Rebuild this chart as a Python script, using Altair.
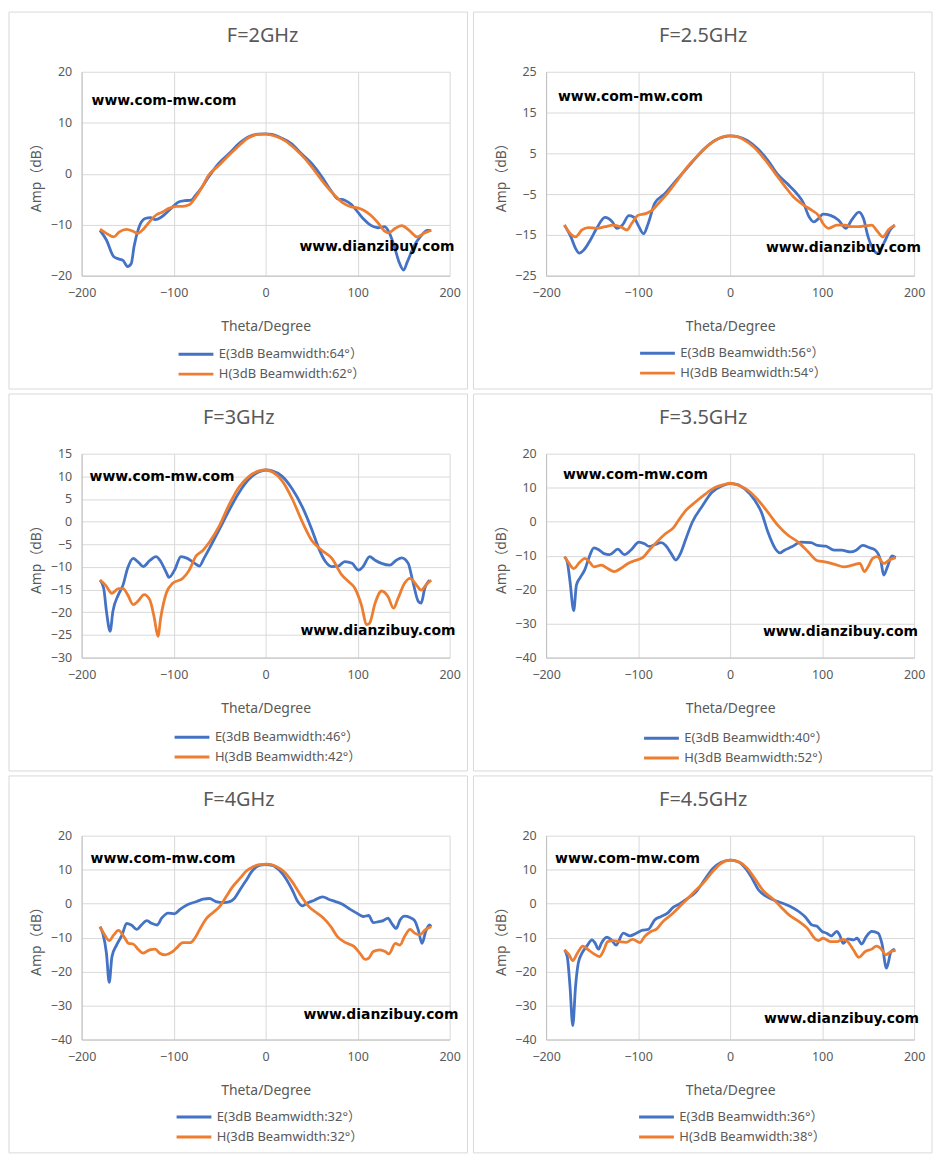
import altair as alt
import pandas as pd

# ---------------- data ----------------
TITLES = ["F=2GHz", "F=2.5GHz", "F=3GHz", "F=3.5GHz", "F=4GHz", "F=4.5GHz"]
E_LABELS = ["E(3dB Beamwidth:64°）", "E(3dB Beamwidth:56°）", "E(3dB Beamwidth:46°）",
            "E(3dB Beamwidth:40°）", "E(3dB Beamwidth:32°）", "E(3dB Beamwidth:36°）"]
H_LABELS = ["H(3dB Beamwidth:62°）", "H(3dB Beamwidth:54°）", "H(3dB Beamwidth:42°）",
            "H(3dB Beamwidth:52°）", "H(3dB Beamwidth:32°）", "H(3dB Beamwidth:38°）"]
X_TICKS = [-200, -100, 0, 100, 200]
Y_DOMAINS = [[-20, 20], [-25, 25], [-30, 15], [-40, 20], [-40, 20], [-40, 20]]
Y_TICKS = [[-20, -10, 0, 10, 20], [-25, -15, -5, 5, 15, 25],
           [-30, -25, -20, -15, -10, -5, 0, 5, 10, 15],
           [-40, -30, -20, -10, 0, 10, 20], [-40, -30, -20, -10, 0, 10, 20],
           [-40, -30, -20, -10, 0, 10, 20]]

P1_E_T = [-180,-173,-165,-160,-155,-150,-146,-143,-138,-131,-125,-120,-114,-108,-101,-94,-88,-81,-76,-69,-62,-51,-40,-29,-19,-8,0,7,17,28,39,50,60,71,78,86,93,100,107,114,122,129,134,140,145,150,154,161,168,176,180]
P1_E_A = [-11.1,-13.0,-16.3,-16.7,-17.0,-18.2,-17.6,-14.3,-10.7,-8.8,-8.6,-9.0,-8.6,-7.7,-6.5,-5.5,-5.3,-5.2,-4.2,-2.6,-0.65,2.0,3.9,5.9,7.2,7.75,7.8,7.7,7.0,5.9,3.9,2.0,-0.3,-3.3,-4.9,-5.2,-6.0,-7.5,-9.0,-10.1,-10.6,-10.4,-11.4,-14.3,-17.3,-18.9,-17.3,-14.3,-12.4,-11.1,-11.1]
P1_H_T = [-180,-173,-165,-159,-151,-144,-139,-133,-126,-119,-112,-105,-97,-90,-83,-76,-69,-62,-51,-40,-29,-19,-8,0,10,21,32,43,53,64,75,84,93,100,107,114,122,129,134,141,148,156,165,172,180]
P1_H_A = [-10.9,-11.7,-12.4,-11.4,-10.9,-11.3,-11.7,-10.9,-9.4,-8.1,-7.5,-6.8,-6.4,-6.4,-6.1,-4.6,-2.6,-0.3,1.6,3.6,5.5,7.0,7.7,7.75,7.4,6.5,4.9,2.9,0.65,-2.0,-4.2,-5.7,-6.5,-6.7,-7.2,-8.1,-9.6,-11.2,-11.6,-10.7,-10.2,-11.1,-12.4,-11.7,-11.1]

P2_E_T = [-180,-173,-168,-164,-159,-152,-145,-136,-128,-123,-117,-110,-105,-100,-94,-89,-82,-71,-60,-49,-38,-28,-17,-6,0,8,19,30,41,51,62,73,80,85,91,96,101,109,118,126,132,140,145,150,156,160,167,174,179]
P2_E_A = [-12.6,-15.5,-18.3,-19.5,-18.7,-16.3,-13.4,-10.7,-11.8,-13.4,-12.6,-10.3,-10.6,-12.6,-14.7,-12.2,-7.3,-4.9,-2.0,0.8,3.7,6.1,8.1,9.1,9.3,9.1,8.1,6.1,3.3,0.0,-2.4,-5.0,-7.3,-10.2,-11.8,-11.0,-9.9,-10.2,-11.4,-13.4,-11.4,-9.4,-11.0,-15.5,-18.7,-19.5,-17.1,-13.8,-12.6]
P2_H_T = [-180,-175,-168,-161,-154,-145,-136,-127,-119,-112,-107,-100,-92,-85,-78,-67,-56,-46,-35,-24,-13,-3,5,15,26,37,48,59,69,80,89,96,101,107,116,125,132,140,147,154,159,166,172,179]
P2_H_A = [-12.6,-14.3,-15.5,-13.8,-13.2,-13.4,-13.0,-12.6,-13.0,-13.8,-12.2,-10.2,-9.8,-9.0,-7.3,-4.5,-1.2,1.8,4.5,6.9,8.6,9.3,9.2,8.3,6.5,3.7,0.4,-2.9,-5.7,-7.7,-9.0,-10.2,-12.2,-13.4,-12.6,-12.6,-13.0,-13.0,-12.8,-12.6,-13.8,-15.5,-13.8,-12.6]

P3_E_T = [-180,-176,-173,-169,-166,-160,-155,-150,-144,-139,-133,-126,-119,-114,-108,-105,-99,-92,-85,-77,-72,-67,-59,-50,-40,-29,-18,-7,0,7,18,29,40,50,58,65,72,79,86,94,101,106,113,119,126,135,142,148,155,160,166,169,173,178]
P3_E_A = [-12.9,-14.7,-19.8,-24.2,-19.8,-16.1,-14.0,-10.3,-8.1,-8.8,-9.9,-8.6,-7.7,-8.8,-11.2,-12.3,-10.7,-7.7,-8.1,-9.2,-9.8,-8.1,-5.1,-1.6,2.4,6.4,9.4,11.0,11.4,11.2,10.0,7.2,3.2,-1.6,-6.0,-8.8,-9.9,-9.8,-8.8,-9.2,-10.7,-9.9,-7.7,-8.5,-9.2,-9.6,-8.5,-8.0,-9.2,-13.2,-17.6,-18.0,-14.7,-12.9]
P3_H_T = [-180,-174,-167,-160,-155,-150,-144,-139,-132,-126,-121,-117,-114,-108,-101,-90,-83,-76,-68,-61,-50,-40,-29,-18,-7,0,7,18,29,40,50,61,72,83,90,97,104,110,113,119,126,133,139,144,151,157,164,169,175,180]
P3_H_A = [-12.9,-14.0,-15.8,-14.8,-14.8,-16.1,-18.3,-17.6,-16.1,-17.2,-21.2,-25.3,-21.2,-15.8,-13.6,-12.5,-10.7,-7.7,-6.3,-4.5,-0.8,3.6,7.6,10.0,11.2,11.4,11.0,9.0,5.0,-0.1,-4.1,-6.3,-8.1,-11.8,-13.2,-14.7,-18.3,-22.7,-22.4,-18.0,-15.3,-16.5,-19.1,-16.9,-13.6,-12.5,-14.0,-15.1,-13.8,-12.9]

P4_E_T = [-180,-177,-174,-170,-167,-163,-158,-153,-148,-142,-137,-131,-122,-115,-108,-99,-93,-88,-82,-75,-70,-64,-59,-54,-48,-41,-30,-20,-9,0,7,16,27,34,41,49,54,59,67,77,88,95,104,113,121,131,137,144,151,158,164,167,171,176,180]
P4_E_A = [-10.3,-11.8,-17.6,-26.2,-18.6,-16.5,-14.2,-10.3,-7.7,-8.4,-9.4,-9.7,-8.1,-9.7,-8.4,-6.0,-6.5,-7.3,-6.8,-6.2,-7.0,-9.4,-11.3,-9.4,-5.0,-0.1,4.7,8.6,10.5,11.2,11.0,9.6,6.2,2.8,-3.0,-7.9,-9.2,-8.4,-7.4,-6.0,-6.2,-7.0,-7.2,-8.4,-8.4,-8.9,-8.4,-7.0,-7.6,-8.4,-11.8,-15.7,-13.3,-10.1,-10.6]
P4_H_T = [-180,-175,-170,-163,-158,-153,-148,-140,-133,-126,-119,-111,-104,-95,-88,-79,-70,-61,-56,-48,-38,-27,-16,-7,0,9,20,31,41,52,63,74,85,95,103,113,124,133,141,146,150,155,160,167,173,180]
P4_H_A = [-10.3,-12.3,-13.8,-11.8,-10.8,-11.8,-13.3,-12.8,-13.8,-14.7,-13.8,-12.3,-11.5,-10.6,-8.4,-5.8,-3.5,-1.6,0.4,3.3,5.7,8.1,10.1,10.9,11.3,10.7,9.1,6.2,2.8,-1.1,-4.0,-6.0,-8.9,-11.5,-11.8,-12.5,-13.3,-12.8,-12.3,-14.7,-13.3,-10.8,-10.3,-12.3,-11.3,-10.6]

P5_E_T = [-180,-177,-173,-170,-167,-162,-156,-151,-146,-140,-135,-129,-124,-118,-113,-106,-99,-93,-84,-75,-68,-61,-54,-46,-39,-34,-28,-21,-14,-7,0,8,15,22,29,35,40,45,53,62,69,76,83,92,99,106,112,117,123,128,133,137,142,146,151,157,162,166,170,174,178,180]
P5_E_A = [-6.8,-8.7,-14.6,-23.2,-15.6,-12.2,-9.2,-5.8,-6.3,-7.6,-6.3,-5.0,-5.8,-6.3,-4.3,-2.8,-3.0,-1.7,-0.2,0.6,1.3,1.5,0.6,0.3,0.6,1.5,4.0,6.9,9.8,11.2,11.5,11.2,9.8,7.4,4.0,0.6,-0.7,0.1,1.0,2.0,1.2,0.6,-0.1,-1.7,-2.8,-3.8,-3.5,-5.6,-5.3,-5.0,-4.3,-5.8,-7.3,-4.9,-3.7,-4.1,-5.0,-7.8,-11.7,-8.2,-6.3,-6.8]
P5_H_T = [-180,-176,-170,-165,-160,-154,-149,-144,-138,-133,-126,-120,-115,-109,-102,-97,-90,-82,-77,-72,-64,-57,-50,-43,-36,-28,-21,-14,-7,2,11,20,29,38,47,56,63,71,78,87,96,103,108,112,117,124,130,134,141,146,151,157,162,168,173,180]
P5_H_A = [-6.8,-8.7,-10.9,-9.2,-7.9,-9.7,-11.7,-11.9,-13.6,-14.6,-13.6,-13.4,-14.6,-15.1,-14.3,-13.1,-11.5,-11.5,-10.2,-7.8,-4.3,-2.6,-0.9,2.0,4.9,7.4,9.6,10.8,11.5,11.6,11.0,9.4,6.4,2.5,-0.9,-2.8,-4.3,-6.8,-9.7,-11.5,-12.6,-14.8,-16.4,-16.1,-14.1,-13.6,-14.1,-14.8,-11.7,-12.2,-9.7,-7.6,-8.7,-9.2,-7.8,-6.8]

P6_E_T = [-180,-177,-174,-171,-168,-165,-161,-156,-150,-147,-143,-140,-134,-129,-124,-116,-109,-102,-95,-89,-82,-75,-68,-62,-55,-48,-37,-28,-19,-10,0,8,17,24,31,39,48,57,66,75,82,89,94,100,105,110,116,119,123,128,134,138,143,148,154,161,165,170,175,179]
P6_E_A = [-13.6,-15.6,-24.4,-35.9,-24.4,-17.5,-14.6,-12.6,-10.7,-11.5,-13.4,-11.7,-9.9,-10.7,-12.2,-8.7,-9.5,-8.7,-7.8,-7.6,-4.8,-3.8,-2.8,-1.1,-0.1,1.2,3.5,6.9,10.3,12.1,12.8,12.4,10.3,7.4,4.0,2.2,1.0,0.1,-0.9,-2.4,-4.0,-6.3,-6.6,-8.2,-8.7,-9.5,-8.2,-9.2,-11.7,-10.4,-10.7,-10.2,-11.9,-9.7,-8.2,-8.7,-11.7,-19.0,-14.1,-13.4]
P6_H_T = [-180,-175,-171,-166,-160,-154,-148,-142,-138,-133,-127,-120,-113,-106,-98,-93,-86,-80,-73,-64,-55,-46,-37,-28,-19,-10,0,10,19,28,37,46,55,64,75,84,93,96,101,109,116,123,128,134,140,147,154,159,165,169,175,180]
P6_H_A = [-13.6,-15.1,-16.8,-14.6,-12.5,-13.6,-14.8,-15.6,-14.1,-11.2,-10.9,-11.2,-11.4,-10.5,-11.5,-9.7,-8.2,-7.5,-5.3,-3.3,-0.9,1.5,4.0,6.4,9.4,11.8,12.8,12.2,10.3,6.9,3.5,1.5,-0.9,-3.3,-5.3,-7.3,-10.5,-10.9,-10.2,-11.2,-11.2,-10.5,-11.2,-13.6,-15.8,-14.1,-13.4,-12.5,-13.6,-15.1,-14.1,-13.8]

SERIES = [(P1_E_T, P1_E_A, P1_H_T, P1_H_A), (P2_E_T, P2_E_A, P2_H_T, P2_H_A),
          (P3_E_T, P3_E_A, P3_H_T, P3_H_A), (P4_E_T, P4_E_A, P4_H_T, P4_H_A),
          (P5_E_T, P5_E_A, P5_H_T, P5_H_A), (P6_E_T, P6_E_A, P6_H_T, P6_H_A)]
WATERMARKS = ["www.com-mw.com", "www.dianzibuy.com"]

# ---------------- layout / style ----------------
BLUE = "#4472C4"
ORANGE = "#ED7D31"
GREY = "#595959"
FONT = "Noto Sans, Noto Sans CJK SC"
W, H = 370, 205
BOX_L, BOX_R, BOX_T, BOX_B = 73, 18, 60, 114
TITLE_X = [182, 158, 158, 158, 158, 158]
WM1_POS = [(10, 29), (12, 25), (8, 23), (17, 21), (9, 24), (9, 24)]
WM2_POS = [(219, 176), (221, 177), (220, 178), (218, 179), (223, 180), (219, 184)]
LEG_POS = [(96, 275), (93, 274), (92, 276), (97, 277), (94, 274), (92, 274)]

one = pd.DataFrame({"k": [0]})


def text_layer(s, x, y, size, color, weight="normal", align="left", font=FONT):
    return alt.Chart(one).mark_text(
        text=s, align=align, baseline="middle", fontSize=size, fontWeight=weight,
        color=color, font=font
    ).encode(x=alt.value(x), y=alt.value(y))


def panel(i):
    et, ea, ht, ha = SERIES[i]
    elab, hlab = E_LABELS[i], H_LABELS[i]
    df = pd.DataFrame({
        "theta": et + ht,
        "amp": ea + ha,
        "series": [elab] * len(et) + [hlab] * len(ht),
    })
    border = alt.Chart(one).mark_rect(fill="transparent", stroke="#d9d9d9", strokeWidth=1).encode(
        x=alt.value(-BOX_L), x2=alt.value(W + BOX_R), y=alt.value(-BOX_T), y2=alt.value(H + BOX_B))
    lines = alt.Chart(df).mark_line(interpolate="monotone", strokeWidth=2.8).encode(
        x=alt.X("theta:Q", scale=alt.Scale(domain=[-200, 200], nice=False),
                axis=alt.Axis(values=X_TICKS, title="Theta/Degree", labelPadding=11,
                              labelFlush=False, titleY=51, titleBaseline="middle")),
        y=alt.Y("amp:Q", scale=alt.Scale(domain=Y_DOMAINS[i], nice=False),
                axis=alt.Axis(values=Y_TICKS[i], title="Amp（dB）", labelPadding=10,
                              labelFlush=False, titleX=-45, titleY=H / 2,
                              titleBaseline="middle")),
        color=alt.Color("series:N", scale=alt.Scale(domain=[elab, hlab], range=[BLUE, ORANGE]),
                        legend=alt.Legend(title=None, orient="none", legendX=LEG_POS[i][0],
                                          legendY=LEG_POS[i][1], direction="vertical",
                                          symbolType="stroke", symbolSize=1225,
                                          symbolStrokeWidth=3, clipHeight=18, rowPadding=2,
                                          labelFontSize=13, labelFont=FONT, labelColor=GREY,
                                          labelOffset=4, padding=0)),
    )
    title = text_layer(TITLES[i], TITLE_X[i], -36, 20, GREY, align="center")
    wm1 = text_layer(WATERMARKS[0], WM1_POS[i][0], WM1_POS[i][1], 14, "black", "bold", font="DejaVu Sans")
    wm2 = text_layer(WATERMARKS[1], WM2_POS[i][0], WM2_POS[i][1], 14, "black", "bold", font="DejaVu Sans")
    return alt.layer(border, lines, title, wm1, wm2).properties(width=W, height=H)


rows = []
for r in range(3):
    row = alt.hconcat(panel(2 * r), panel(2 * r + 1), spacing=4).resolve_scale(
        color="independent", x="independent", y="independent").resolve_legend(color="independent")
    rows.append(row)

chart = alt.vconcat(*rows, spacing=3).resolve_scale(
    color="independent", x="independent", y="independent"
).resolve_legend(color="independent").properties(padding=0).configure_view(
    stroke="transparent"
).configure_axis(
    labelFont=FONT, labelFontSize=12.5, labelColor=GREY,
    titleFont=FONT, titleFontSize=14, titleColor=GREY, titleFontWeight="normal",
    gridColor="#d9d9d9", domainColor="#bfbfbf", ticks=False, tickSize=0
)

chart.save("out.html", embed_options={"renderer": "svg", "actions": False})
